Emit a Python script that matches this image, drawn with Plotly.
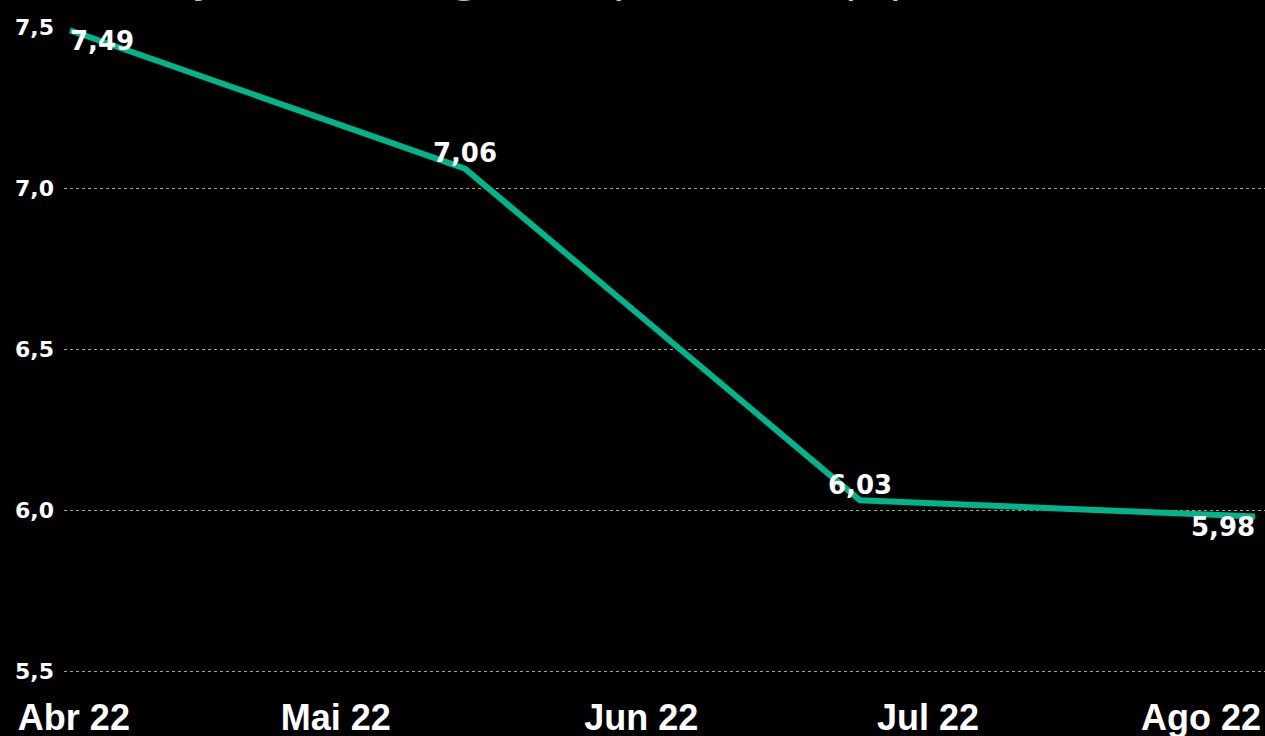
import plotly.graph_objects as go

# Data
point_labels = ["Abr 22", "Mai 22", "Jul 22", "Ago 22"]
point_pos = [0, 1, 2, 3]
values = [7.49, 7.06, 6.03, 5.98]
label_positions = ["bottom right", "top center", "top center", "bottom left"]

tick_text = ["Abr 22", "Mai 22", "Jun 22", "Jul 22", "Ago 22"]
tick_pos = [0.01, 0.673, 1.446, 2.172, 2.863]

y_ticks = [5.5, 6.0, 6.5, 7.0, 7.5]

title_text = "Evolução da margem líquida, em p.p."

LINE_COLOR = "#00B48C"

fig = go.Figure()
fig.add_trace(go.Scatter(
    x=point_pos,
    y=values,
    mode="lines+text",
    line=dict(color=LINE_COLOR, width=6),
    text=values,
    texttemplate="%{y:.2f}",
    textposition=label_positions,
    textfont=dict(family="DejaVu Sans", size=26, color="white", weight="bold"),
    hoverinfo="skip",
    cliponaxis=False,
))

fig.add_annotation(
    xref="paper", yref="paper",
    x=-0.0075, y=1,
    xanchor="left", yanchor="bottom",
    yshift=21,
    text=title_text,
    showarrow=False,
    font=dict(family="Open Sans", size=51, color="#c8c8c8"),
)

fig.update_layout(
    width=1265, height=736,
    paper_bgcolor="black",
    plot_bgcolor="black",
    margin=dict(l=64, r=0, t=27, b=55, autoexpand=False),
    separators=",.",
    showlegend=False,
    xaxis=dict(
        range=[-0.015, 3.025],
        tickmode="array",
        tickvals=tick_pos,
        ticktext=tick_text,
        showgrid=False,
        zeroline=False,
        showline=False,
        ticks="",
        automargin=False,
        tickfont=dict(family="Liberation Sans", size=36, color="white", weight="bold"),
        ticklabelstandoff=12,
    ),
    yaxis=dict(
        range=[5.469, 7.5],
        tickmode="array",
        tickvals=y_ticks,
        tickformat=".1f",
        showgrid=True,
        gridcolor="#a0a0a0",
        gridwidth=1,
        griddash="dot",
        zeroline=False,
        showline=False,
        ticks="",
        automargin=False,
        tickfont=dict(family="DejaVu Sans", size=22, color="white", weight="bold"),
        ticklabelstandoff=9,
    ),
)

fig.write_html(
    "out.html",
    config={"displayModeBar": False},
    post_script="document.body.style.margin='0';document.body.style.background='black';",
)
